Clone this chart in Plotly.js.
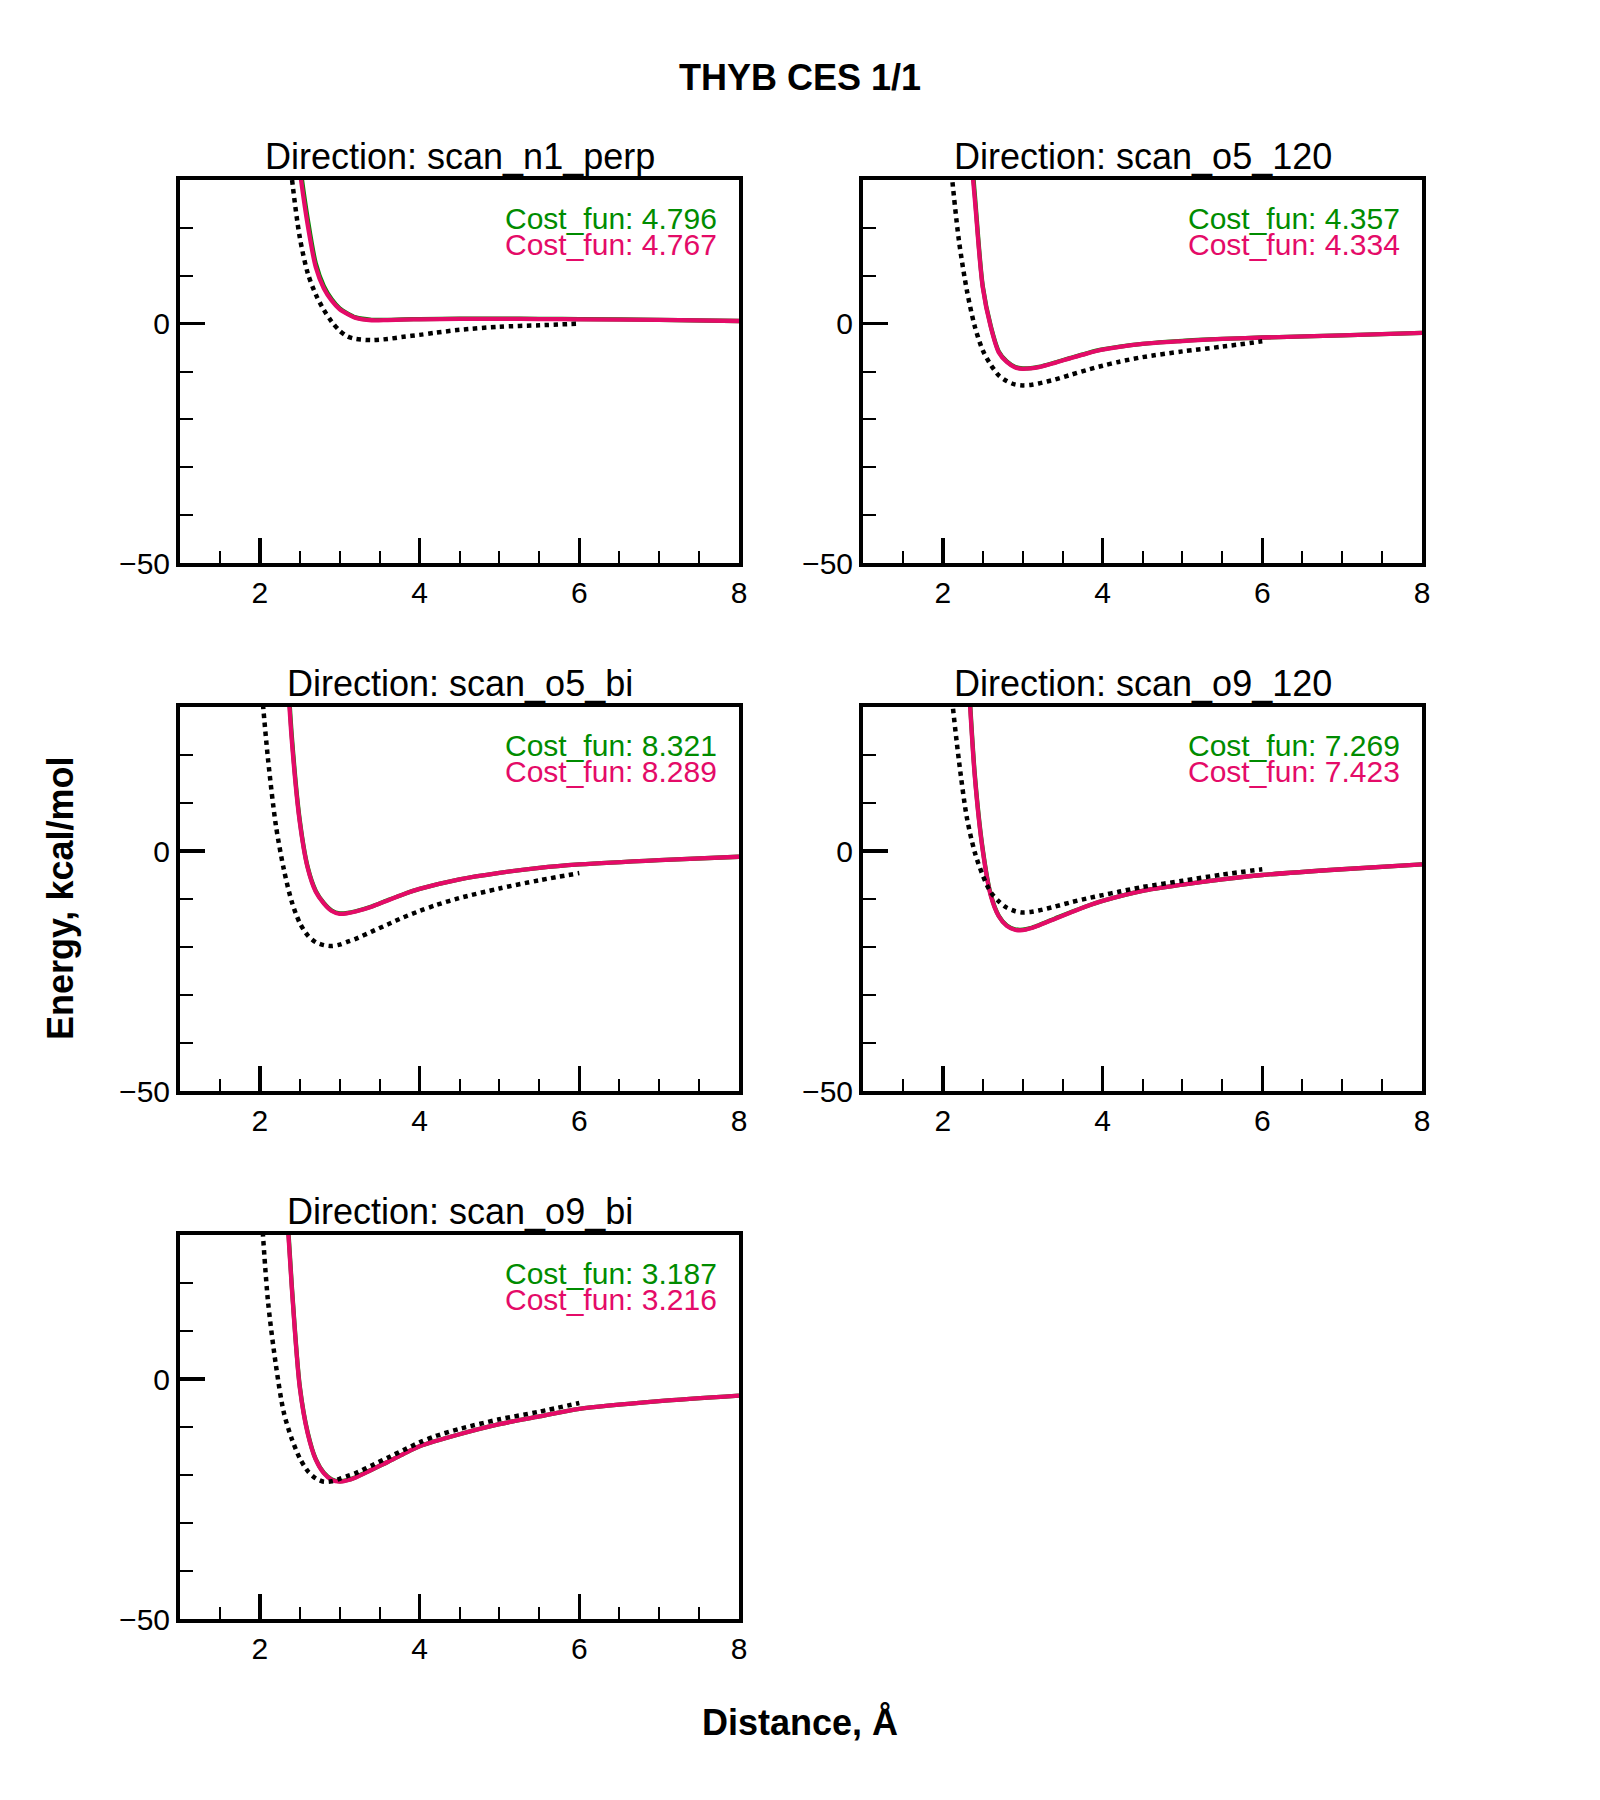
<!DOCTYPE html>
<html>
<head>
<meta charset="utf-8">
<script src="https://cdn.plot.ly/plotly-3.0.1.min.js"></script>
<style>
  html, body { margin: 0; padding: 0; background: #ffffff; }
  #chart { width: 1600px; height: 1800px; }
</style>
</head>
<body>
<div id="chart"></div>
<script>
// ---------------- DATA ----------------
const chartTitle = 'THYB CES 1/1';
const xAxisTitle = 'Distance, Å';
const yAxisTitle = 'Energy, kcal/mol';

const directions = ['scan_n1_perp', 'scan_o5_120', 'scan_o5_bi', 'scan_o9_120', 'scan_o9_bi'];
const costGreen = ['4.796', '4.357', '8.321', '7.269', '3.187'];
const costPink  = ['4.767', '4.334', '8.289', '7.423', '3.216'];

// reference (QM) scan distances, Å
const qmX = [2.0, 2.1, 2.2, 2.3, 2.4, 2.5, 2.6, 2.7, 2.8, 2.9, 3.0, 3.1, 3.2, 3.4, 3.6, 3.8, 4.0, 4.2, 4.5, 5.0, 5.5, 6.0];
// model curve distances, Å
const modelX = [2.3, 2.4, 2.5, 2.6, 2.7, 2.8, 2.9, 3.0, 3.1, 3.2, 3.4, 3.6, 3.8, 4.0, 4.5, 5.0, 5.5, 6.0, 7.0, 8.0];

// scan_n1_perp
const n1perpQM    = [135, 98, 70, 48, 30.5, 18, 10.5, 6.1, 2.9, 0.4, -1.5, -2.7, -3.2, -3.45, -3.2, -2.75, -2.35, -1.9, -1.3, -0.65, -0.35, 0.0];
const n1perpGreen = [65, 48, 33.5, 21.8, 12.6, 7.9, 5.1, 3.2, 2.1, 1.3, 0.8, 0.8, 0.9, 0.95, 1.05, 1.05, 1.0, 0.95, 0.8, 0.55];
const n1perpPink  = [62, 46, 32, 20.5, 11.8, 7.4, 4.8, 3.0, 2.0, 1.2, 0.7, 0.75, 0.85, 0.9, 1.0, 1.0, 0.95, 0.9, 0.8, 0.55];

// scan_o5_120
const o5_120QM    = [52, 33, 17.5, 7.0, -0.6, -5.6, -8.6, -10.8, -12.0, -12.7, -12.9, -12.8, -12.5, -11.7, -10.7, -9.7, -8.8, -8.0, -7.0, -5.8, -4.8, -3.7];
const o5_120Green = [47, 27, 7.8, -0.5, -5.8, -7.9, -9.0, -9.35, -9.3, -9.05, -8.15, -7.15, -6.2, -5.4, -4.25, -3.6, -3.2, -2.9, -2.45, -1.95];
const o5_120Pink  = [45, 26, 7.5, -0.7, -6.0, -8.0, -9.1, -9.45, -9.35, -9.1, -8.2, -7.2, -6.25, -5.45, -4.25, -3.65, -3.2, -2.9, -2.45, -1.95];

// scan_o5_bi
const o5_biQM    = [38, 19.5, 5.4, -3.8, -10.6, -15.0, -17.6, -19.0, -19.6, -19.8, -19.5, -18.9, -18.3, -16.8, -15.3, -13.8, -12.5, -11.3, -9.8, -7.8, -6.1, -4.6];
const o5_biGreen = [52, 24, 6.4, -3.4, -8.3, -10.8, -12.4, -13.0, -12.9, -12.55, -11.55, -10.25, -9.0, -7.9, -5.9, -4.55, -3.5, -2.8, -1.9, -1.2];
const o5_biPink  = [50, 23, 6.0, -3.6, -8.5, -10.9, -12.5, -13.1, -12.95, -12.6, -11.6, -10.3, -9.0, -7.9, -5.9, -4.55, -3.5, -2.8, -1.9, -1.2];

// scan_o9_120
const o9_120QM    = [52, 34, 19, 7.0, -0.3, -5.1, -8.6, -10.5, -11.8, -12.5, -12.8, -12.7, -12.4, -11.6, -10.7, -9.9, -9.2, -8.5, -7.5, -6.2, -4.9, -3.8];
const o9_120Green = [43, 16, 0.3, -9.1, -13.5, -15.5, -16.3, -16.4, -16.05, -15.45, -14.1, -12.75, -11.5, -10.4, -8.3, -7.0, -5.9, -5.0, -3.8, -2.8];
const o9_120Pink  = [42, 15.5, 0.0, -9.3, -13.6, -15.6, -16.4, -16.5, -16.1, -15.5, -14.15, -12.8, -11.5, -10.4, -8.3, -7.0, -5.9, -5.0, -3.8, -2.8];

// scan_o9_bi
const o9_biQM    = [40, 16.5, 3.0, -7.0, -12.5, -16.5, -19.2, -20.7, -21.4, -21.3, -20.8, -20.2, -19.6, -18.0, -16.4, -14.8, -13.2, -11.9, -10.4, -8.4, -6.8, -5.0];
const o9_biGreen = [46, 19.5, -1.5, -11.2, -16.7, -19.5, -20.9, -21.3, -21.05, -20.45, -18.9, -17.3, -15.6, -14.0, -11.5, -9.4, -7.8, -6.2, -4.6, -3.45];
const o9_biPink  = [45, 19, -1.8, -11.4, -16.8, -19.6, -21.0, -21.4, -21.1, -20.5, -18.9, -17.3, -15.6, -14.0, -11.5, -9.4, -7.8, -6.2, -4.6, -3.45];

const qmSeries    = [n1perpQM, o5_120QM, o5_biQM, o9_120QM, o9_biQM];
const greenSeries = [n1perpGreen, o5_120Green, o5_biGreen, o9_120Green, o9_biGreen];
const pinkSeries  = [n1perpPink, o5_120Pink, o5_biPink, o9_120Pink, o9_biPink];

const xRange = [1, 8];
const yRange = [-50, 30];

// ---------------- STYLE / LAYOUT ----------------
const FONT = 'Liberation Sans, Arial, Helvetica, sans-serif';
const GREEN = '#008c00';
const PINK = '#e40b68';
const W = 1600, H = 1800;

// pixel frames of the panels (plot areas; frame lines drawn just outside)
const colPx = [[180, 739], [863, 1422]];
const rowPx = [[180, 563], [707, 1091], [1235, 1619]];
const panelPos = [[0, 0], [0, 1], [1, 0], [1, 1], [2, 0]]; // [row, col]

const traces = [];
const layout = {
  width: W, height: H, autosize: false,
  margin: {l: 0, r: 0, t: 0, b: 0},
  paper_bgcolor: '#ffffff', plot_bgcolor: '#ffffff',
  showlegend: false,
  font: {family: FONT, color: '#000000', size: 30},
  title: {
    text: chartTitle, x: 0.5, xanchor: 'center', y: 1 - 77 / H, yanchor: 'middle',
    xref: 'paper', yref: 'container',
    font: {family: FONT, size: 36, color: '#000000', weight: 'bold'}
  },
  annotations: []
};

directions.forEach((dir, i) => {
  const [r, c] = panelPos[i];
  const n = i + 1;
  const xa = n === 1 ? 'x' : 'x' + n;
  const ya = n === 1 ? 'y' : 'y' + n;
  const xDom = [colPx[c][0] / W, colPx[c][1] / W];
  const yDom = [1 - rowPx[r][1] / H, 1 - rowPx[r][0] / H];

  traces.push({x: modelX, y: greenSeries[i], xaxis: xa, yaxis: ya, type: 'scatter', mode: 'lines',
    line: {color: GREEN, width: 4.3, shape: 'spline', smoothing: 0.8}, hoverinfo: 'skip'});
  traces.push({x: modelX, y: pinkSeries[i], xaxis: xa, yaxis: ya, type: 'scatter', mode: 'lines',
    line: {color: PINK, width: 4.3, shape: 'spline', smoothing: 0.8}, hoverinfo: 'skip'});
  traces.push({x: qmX, y: qmSeries[i], xaxis: xa, yaxis: ya, type: 'scatter', mode: 'lines',
    line: {color: '#000000', width: 4.5, dash: '4.5px,4.5px', shape: 'spline', smoothing: 0.8}, hoverinfo: 'skip'});

  const common = {
    showline: true, linecolor: '#000000', linewidth: 4, mirror: true,
    showgrid: false, zeroline: false,
    ticks: 'inside', tickcolor: '#000000', tickwidth: 3.5, ticklen: 25,
    tickfont: {family: FONT, size: 30, color: '#000000'},
    fixedrange: true
  };
  layout['xaxis' + (n === 1 ? '' : n)] = Object.assign({}, common, {
    domain: xDom, range: xRange, anchor: ya,
    tick0: 0, dtick: 2,
    minor: {ticks: 'inside', dtick: 0.5, tick0: 0, ticklen: 12, tickwidth: 2, tickcolor: '#000000', showgrid: false}
  });
  layout['yaxis' + (n === 1 ? '' : n)] = Object.assign({}, common, {
    domain: yDom, range: yRange, anchor: xa,
    tick0: 0, dtick: 50,
    minor: {ticks: 'inside', dtick: 10, tick0: 0, ticklen: 13, tickwidth: 2, tickcolor: '#000000', showgrid: false}
  });

  // panel title
  layout.annotations.push({
    text: 'Direction: ' + dir, xref: 'paper', yref: 'paper',
    x: (xDom[0] + xDom[1]) / 2, y: 1 - (rowPx[r][0] - 24) / H,
    xanchor: 'center', yanchor: 'middle', showarrow: false,
    font: {family: FONT, size: 36, color: '#000000'}
  });
  // cost function labels
  layout.annotations.push({
    text: 'Cost_fun: ' + costGreen[i], xref: 'paper', yref: 'paper',
    x: (colPx[c][1] - 20) / W, y: 1 - (rowPx[r][0] + 38) / H,
    xanchor: 'right', yanchor: 'middle', showarrow: false,
    font: {family: FONT, size: 30, color: GREEN}
  });
  layout.annotations.push({
    text: 'Cost_fun: ' + costPink[i], xref: 'paper', yref: 'paper',
    x: (colPx[c][1] - 20) / W, y: 1 - (rowPx[r][0] + 64.5) / H,
    xanchor: 'right', yanchor: 'middle', showarrow: false,
    font: {family: FONT, size: 30, color: PINK}
  });
});

// shared axis titles
layout.annotations.push({
  text: xAxisTitle, xref: 'paper', yref: 'paper', x: 0.5, y: 1 - 1722 / H,
  xanchor: 'center', yanchor: 'middle', showarrow: false,
  font: {family: FONT, size: 36, color: '#000000', weight: 'bold'}
});
layout.annotations.push({
  text: yAxisTitle, xref: 'paper', yref: 'paper', x: 60 / W, y: 1 - 899 / H,
  xanchor: 'center', yanchor: 'middle', showarrow: false, textangle: -90,
  font: {family: FONT, size: 36, color: '#000000', weight: 'bold'}
});

Plotly.newPlot('chart', traces, layout, {staticPlot: true, displayModeBar: false});
</script>
</body>
</html>
